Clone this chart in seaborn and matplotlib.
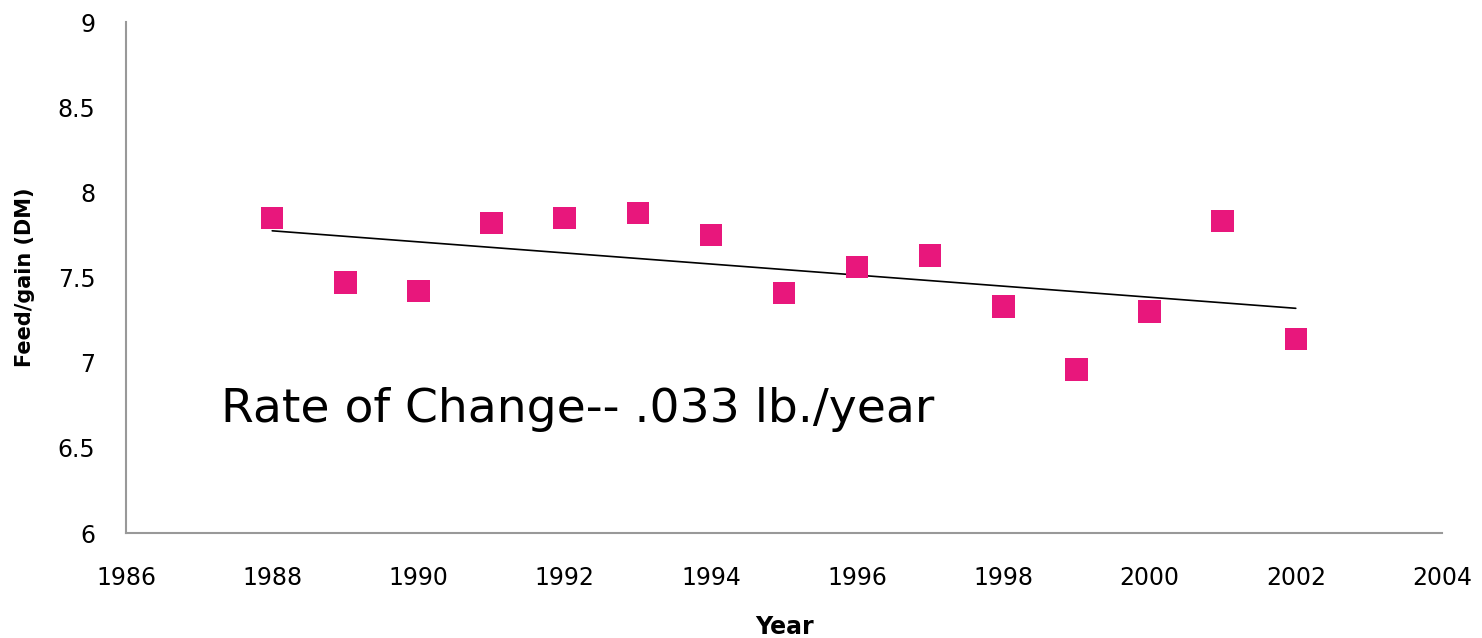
import numpy as np
import pandas as pd
import matplotlib
matplotlib.use("Agg")
import matplotlib.pyplot as plt
import seaborn as sns

years = [1988, 1989, 1990, 1991, 1992, 1993, 1994, 1995, 1996, 1997, 1998, 1999, 2000, 2001, 2002]
feed_gain = [7.85, 7.47, 7.42, 7.82, 7.85, 7.88, 7.75, 7.41, 7.56, 7.63, 7.33, 6.96, 7.30, 7.83, 7.14]
x_ticks = [1986, 1988, 1990, 1992, 1994, 1996, 1998, 2000, 2002, 2004]
y_ticks = [6, 6.5, 7, 7.5, 8, 8.5, 9]
annotation = "Rate of Change-- .033 lb./year"

df = pd.DataFrame({"Year": years, "FeedGain": feed_gain})

sns.set_style("white")
plt.rcParams['font.family'] = ['DejaVu Sans']

fig = plt.figure(figsize=(14.82, 6.38), dpi=100)
ax = fig.add_axes([126/1482, 1 - 533/638, (1442-126)/1482, (533-22)/638])

sns.scatterplot(data=df, x="Year", y="FeedGain", marker="s", s=260,
                color="#E8177C", edgecolor="none", ax=ax, zorder=3)

coef = np.polyfit(df["Year"], df["FeedGain"], 1)
xs = np.array([years[0], years[-1]])
ax.plot(xs, np.polyval(coef, xs), color="black", lw=1.2, zorder=2)

ax.set_xlim(1986, 2004)
ax.set_ylim(6, 9)
ax.set_xticks(x_ticks)
ax.set_yticks(y_ticks)
ax.set_xticklabels([str(t) for t in x_ticks], fontsize=17, color="black")
ax.set_yticklabels([f"{t:g}" for t in y_ticks], fontsize=17, color="black")
ax.tick_params(axis="both", length=0)
ax.tick_params(axis="x", pad=24)
ax.tick_params(axis="y", pad=22)

for s in ["top", "right"]:
    ax.spines[s].set_visible(False)
for s in ["left", "bottom"]:
    ax.spines[s].set_color("#999999")
    ax.spines[s].set_linewidth(1.5)

ax.set_xlabel("Year", fontsize=17, fontweight="bold", labelpad=18, color="black")
ax.set_ylabel("Feed/gain (DM)", fontsize=15, fontweight="bold", labelpad=16, color="black")

ax.text(1987.3, 6.65, annotation, fontsize=34, color="black", ha="left", va="baseline")

fig.savefig("out.png", dpi=100)
